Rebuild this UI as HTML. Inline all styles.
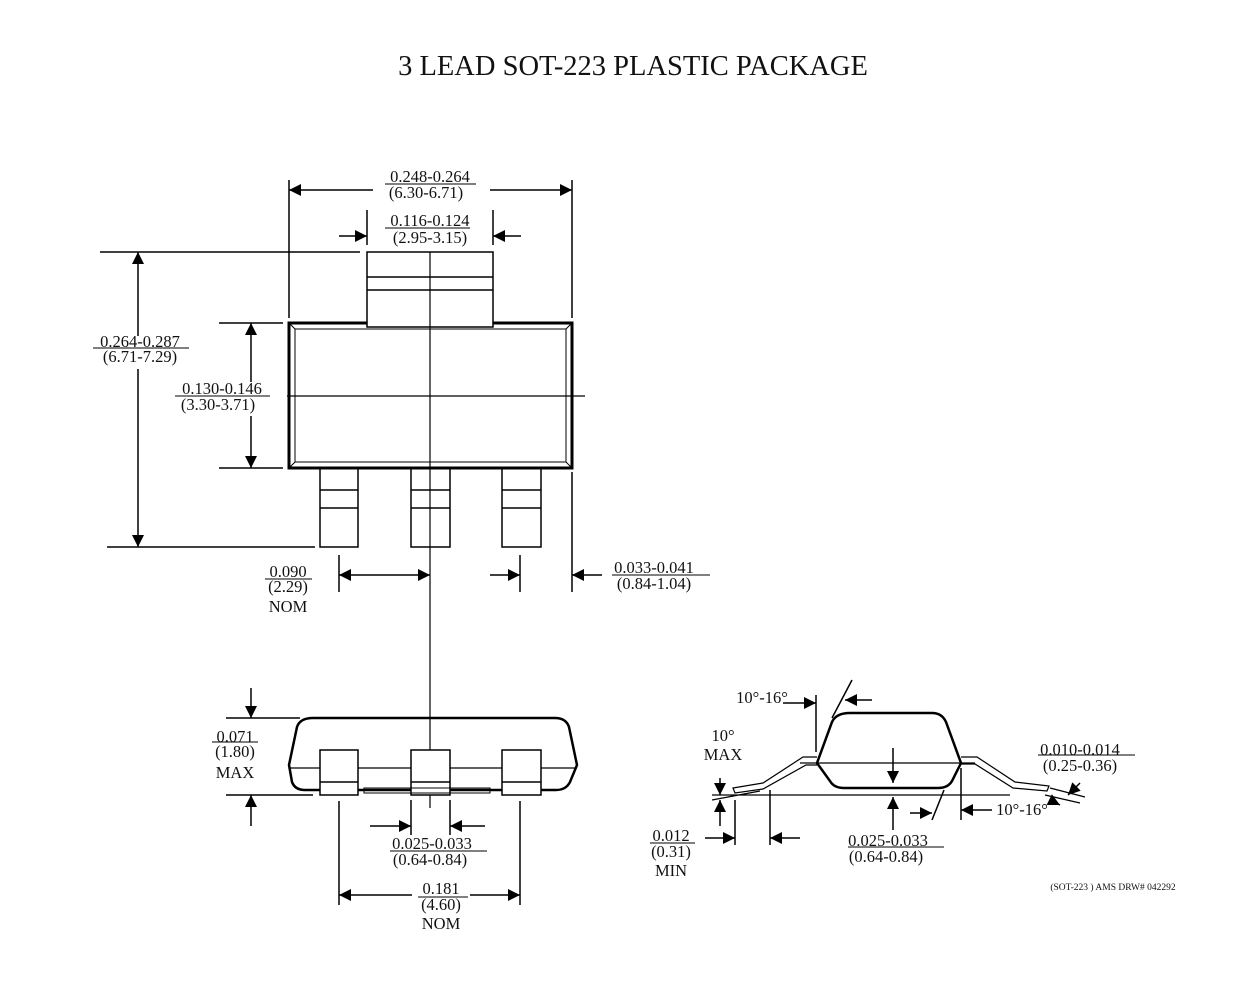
<!DOCTYPE html>
<html><head><style>
body{margin:0;background:#fff}
svg text{font-family:"Liberation Serif",serif;fill:#111}
</style></head><body>
<svg width="1239" height="993" viewBox="0 0 1239 993" xmlns="http://www.w3.org/2000/svg">
<defs>
<marker id="a" viewBox="0 0 10 10" refX="10" refY="5" markerWidth="14" markerHeight="12" markerUnits="userSpaceOnUse" orient="auto-start-reverse"><path d="M0,0L10,5L0,10z" fill="#000"/></marker>
</defs>
<text x="633" y="75" font-size="28.5" text-anchor="middle">3 LEAD SOT-223 PLASTIC PACKAGE</text>
<g stroke="#000" fill="none" stroke-width="1.5">
<rect x="289" y="323" width="283" height="145" stroke-width="3"/>
<rect x="295" y="329" width="271" height="133" stroke-width="1"/>
<path d="M289,323l6,6M572,323l-6,6M289,468l6,-6M572,468l-6,-6" stroke-width="1"/>
<rect x="367" y="252" width="126" height="75" fill="#fff"/>
<path d="M367,277h126M367,290h126"/>
<rect x="320" y="468" width="38" height="79"/><path d="M320,490h38M320,508h38"/>
<rect x="411" y="468" width="39" height="79"/><path d="M411,490h39M411,508h39"/>
<rect x="502" y="468" width="39" height="79"/><path d="M502,490h39M502,508h39"/>
<path d="M430,252V808M287,396H585" stroke-width="1.2"/>
<path d="M289,180V318M572,180V318M572,472V592M367,210V245M493,210V245"/>
<path d="M373,190H289" marker-end="url(#a)"/><path d="M490,190H572" marker-end="url(#a)"/>
<path d="M339,236H367" marker-end="url(#a)"/><path d="M521,236H493" marker-end="url(#a)"/>
<path d="M100,252H360M107,547H315"/>
<path d="M138,336V252" marker-end="url(#a)"/><path d="M138,369V547" marker-end="url(#a)"/>
<path d="M219,323H283M219,468H283"/>
<path d="M251,382V323" marker-end="url(#a)"/><path d="M251,416V468" marker-end="url(#a)"/>
<path d="M339,555V592M520,555V592"/>
<path d="M339,575H430" marker-start="url(#a)" marker-end="url(#a)"/>
<path d="M490,575H520" marker-end="url(#a)"/><path d="M602,575H572" marker-end="url(#a)"/>
<path d="M313,718H555Q566,718 569,727L577,765L570,782Q566,790 556,790H305Q295,790 292,782L289,765L297,727Q300,718 313,718Z" stroke-width="2.5"/>
<path d="M289,768H577" stroke-width="1.2"/>
<rect x="320" y="750" width="38" height="45" fill="#fff"/><path d="M320,782h38"/>
<rect x="411" y="750" width="39" height="45" fill="#fff"/><path d="M411,782h39"/>
<rect x="502" y="750" width="39" height="45" fill="#fff"/><path d="M502,782h39"/>
<path d="M364,788H490V793H364Z" stroke-width="1"/>
<path d="M226,718H300M226,795H313"/>
<path d="M251,688V718" marker-end="url(#a)"/><path d="M251,826V795" marker-end="url(#a)"/>
<path d="M411,800V835M450,800V835M339,801V905M520,801V905"/>
<path d="M370,826H411" marker-end="url(#a)"/><path d="M485,826H450" marker-end="url(#a)"/>
<path d="M412,895H339" marker-end="url(#a)"/><path d="M470,895H520" marker-end="url(#a)"/>
<path d="M850,713H932Q942,713 946,722L961,763L952,781Q948,788 938,788H844Q834,788 830,781L817,763L832,722Q836,713 850,713Z" stroke-width="2.5"/>
<path d="M800,763H975" stroke-width="1.2"/>
<path d="M817,757H803L763,783L733,788L735,793L763,789L806,765H817" stroke-width="1.2"/>
<path d="M961,757H977L1015,782L1049,786L1047,791L1013,788L975,764H961" stroke-width="1.2"/>
<path d="M712,795H1010M712,800L760,791M1045,795L1080,803M1050,788L1085,797" stroke-width="1.2"/>
<path d="M816,695V752M832,718L852,680M961,768V820M944,790L932,820M735,800V845M770,790V845"/>
<path d="M783,703H816" marker-end="url(#a)"/><path d="M872,700H845" marker-end="url(#a)"/>
<path d="M893,748V783" marker-end="url(#a)"/><path d="M893,830V797" marker-end="url(#a)"/>
<path d="M720,778V795" marker-end="url(#a)"/><path d="M720,826V800" marker-end="url(#a)"/>
<path d="M705,838H735" marker-end="url(#a)"/><path d="M800,838H770" marker-end="url(#a)"/>
<path d="M910,813H932" marker-end="url(#a)"/><path d="M992,810H961" marker-end="url(#a)"/>
<path d="M1080,783L1068,795" marker-end="url(#a)"/><path d="M1050,800L1060,805" marker-end="url(#a)"/>
<path d="M385,184H476M385,228H470M93,348H189M175,396H270M265,579H312M612,575H710M212,742H258M390,851H487M418,897H468M1038,755H1135M650,843H695M848,847H944" stroke-width="1"/>
</g>
<g font-size="16.5">
<text x="430" y="182" text-anchor="middle">0.248-0.264</text>
<text x="426" y="198" text-anchor="middle">(6.30-6.71)</text>
<text x="430" y="226" text-anchor="middle">0.116-0.124</text>
<text x="430" y="243" text-anchor="middle">(2.95-3.15)</text>
<text x="140" y="347" text-anchor="middle">0.264-0.287</text>
<text x="140" y="362" text-anchor="middle">(6.71-7.29)</text>
<text x="222" y="394" text-anchor="middle">0.130-0.146</text>
<text x="218" y="410" text-anchor="middle">(3.30-3.71)</text>
<text x="288" y="577" text-anchor="middle">0.090</text>
<text x="288" y="592" text-anchor="middle">(2.29)</text>
<text x="288" y="612" text-anchor="middle">NOM</text>
<text x="654" y="573" text-anchor="middle">0.033-0.041</text>
<text x="654" y="589" text-anchor="middle">(0.84-1.04)</text>
<text x="235" y="742" text-anchor="middle">0.071</text>
<text x="235" y="757" text-anchor="middle">(1.80)</text>
<text x="235" y="778" text-anchor="middle">MAX</text>
<text x="432" y="849" text-anchor="middle">0.025-0.033</text>
<text x="430" y="865" text-anchor="middle">(0.64-0.84)</text>
<text x="441" y="894" text-anchor="middle">0.181</text>
<text x="441" y="910" text-anchor="middle">(4.60)</text>
<text x="441" y="929" text-anchor="middle">NOM</text>
<text x="762" y="703" text-anchor="middle">10°-16°</text>
<text x="723" y="741" text-anchor="middle">10°</text>
<text x="723" y="760" text-anchor="middle">MAX</text>
<text x="1080" y="755" text-anchor="middle">0.010-0.014</text>
<text x="1080" y="771" text-anchor="middle">(0.25-0.36)</text>
<text x="1022" y="815" text-anchor="middle">10°-16°</text>
<text x="671" y="841" text-anchor="middle">0.012</text>
<text x="671" y="857" text-anchor="middle">(0.31)</text>
<text x="671" y="876" text-anchor="middle">MIN</text>
<text x="888" y="846" text-anchor="middle">0.025-0.033</text>
<text x="886" y="862" text-anchor="middle">(0.64-0.84)</text>
</g>
<text x="1113" y="890" font-size="9.5" text-anchor="middle">(SOT-223 ) AMS DRW# 042292</text>
</svg>
</body></html>
